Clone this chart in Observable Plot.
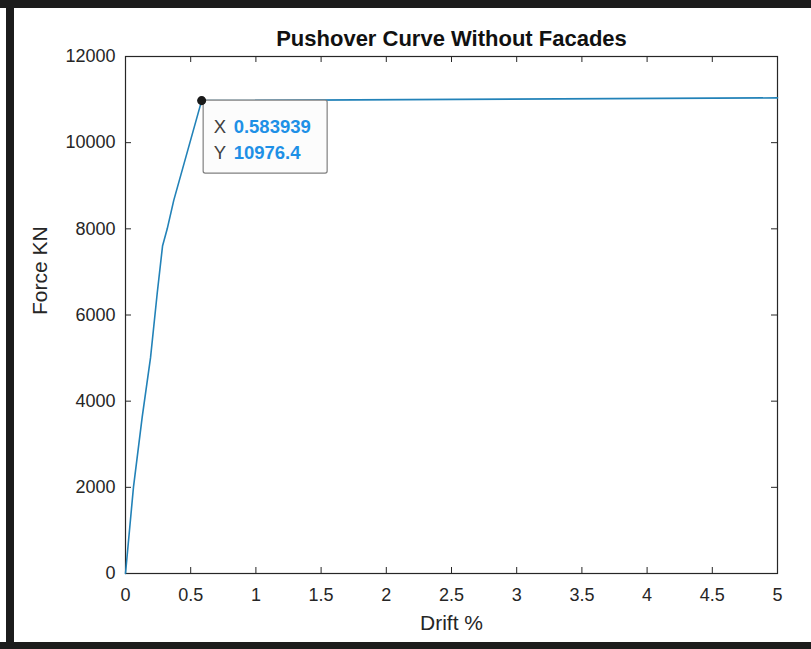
<!DOCTYPE html>
<html>
<head>
<meta charset="utf-8">
<script src="https://cdn.jsdelivr.net/npm/d3@7"></script>
<script src="https://cdn.jsdelivr.net/npm/@observablehq/plot@0.6"></script>
<style>
  html, body { margin: 0; padding: 0; background: #ffffff; }
  #wrap { position: relative; width: 811px; height: 649px; overflow: hidden; background: #ffffff; }
  .band { position: absolute; background: #1c1c1c; }
</style>
</head>
<body>
<div id="wrap">
  <div id="chart"></div>
  <div class="band" style="left:0;top:0;width:811px;height:8px;"></div>
  <div class="band" style="left:6px;top:0;width:8px;height:649px;"></div>
  <div class="band" style="left:0;top:642px;width:811px;height:7px;"></div>
</div>
<script>
// ---- data ----
const drift = [0, 0.061, 0.128, 0.192, 0.243, 0.284, 0.320, 0.370, 0.583939, 5];
const force = [0, 2000, 3630, 5010, 6500, 7600, 8000, 8660, 10976.4, 11040];
const xTicks = [0, 0.5, 1, 1.5, 2, 2.5, 3, 3.5, 4, 4.5, 5];
const yTicks = [0, 2000, 4000, 6000, 8000, 10000, 12000];
const tipX = 0.583939;
const tipY = 10976.4;
const titleText = "Pushover Curve Without Facades";
const xLabel = "Drift %";
const yLabel = "Force KN";

const data = drift.map((d, i) => ({drift: d, force: force[i]}));
const tip = [{drift: tipX, force: tipY}];

const W = 811, H = 649;
const mL = 125, mR = 34, mT = 56, mB = 76;
const innerW = W - mL - mR, innerH = H - mT - mB;
const axisColor = "#262626";
const tickLen = 6;

const chart = Plot.plot({
  width: W, height: H,
  marginLeft: mL, marginRight: mR, marginTop: mT, marginBottom: mB,
  style: {fontFamily: "'Liberation Sans', Arial, sans-serif", background: "transparent", color: axisColor},
  x: {domain: [0, 5]},
  y: {domain: [0, 12000]},
  marks: [
    Plot.ruleX(xTicks, {insetTop: innerH - tickLen, stroke: axisColor}),
    Plot.ruleX(xTicks, {insetBottom: innerH - tickLen, stroke: axisColor}),
    Plot.ruleY(yTicks, {insetRight: innerW - tickLen, stroke: axisColor}),
    Plot.ruleY(yTicks, {insetLeft: innerW - tickLen, stroke: axisColor}),
    Plot.axisX(xTicks, {tickSize: 0, tickPadding: 15, fontSize: 18, label: null, tickFormat: d => String(d), color: axisColor}),
    Plot.axisY(yTicks, {tickSize: 0, tickPadding: 10, fontSize: 18, label: null, tickFormat: d => String(d), color: axisColor}),
    Plot.frame({stroke: axisColor, strokeWidth: 1.2}),
    Plot.line(data, {x: "drift", y: "force", stroke: "#2282b8", strokeWidth: 1.6}),
    Plot.rect(tip, {x1: "drift", x2: "drift", y1: "force", y2: "force", dx: 64, dy: 36.5,
      insetLeft: -62, insetRight: -62, insetTop: -36.5, insetBottom: -36.5,
      fill: "#fcfcfc", stroke: "#808080", strokeWidth: 1.2, rx: 2}),
    Plot.dot(tip, {x: "drift", y: "force", r: 3.8, fill: "#1a1a1a", stroke: "#1a1a1a"}),
    Plot.text(tip, {x: "drift", y: "force", text: () => "X", dx: 12, dy: 26, textAnchor: "start", fontSize: 18.5, fill: "#404040"}),
    Plot.text(tip, {x: "drift", y: "force", text: d => String(d.drift), dx: 32, dy: 26, textAnchor: "start", fontSize: 18.5, fontWeight: "bold", fill: "#1e90e6"}),
    Plot.text(tip, {x: "drift", y: "force", text: () => "Y", dx: 12, dy: 52.5, textAnchor: "start", fontSize: 18.5, fill: "#404040"}),
    Plot.text(tip, {x: "drift", y: "force", text: d => String(d.force), dx: 32, dy: 52.5, textAnchor: "start", fontSize: 18.5, fontWeight: "bold", fill: "#1e90e6"}),
    Plot.text([titleText], {frameAnchor: "top", lineAnchor: "middle", dy: -18, fontSize: 22, fontWeight: "bold", fill: "#111111"}),
    Plot.text([xLabel], {frameAnchor: "bottom", lineAnchor: "middle", dy: 50, fontSize: 21, fill: axisColor}),
    Plot.text([yLabel], {frameAnchor: "left", lineAnchor: "middle", dx: -85, rotate: -90, fontSize: 21, fill: axisColor})
  ]
});
document.getElementById("chart").appendChild(chart);
</script>
</body>
</html>
